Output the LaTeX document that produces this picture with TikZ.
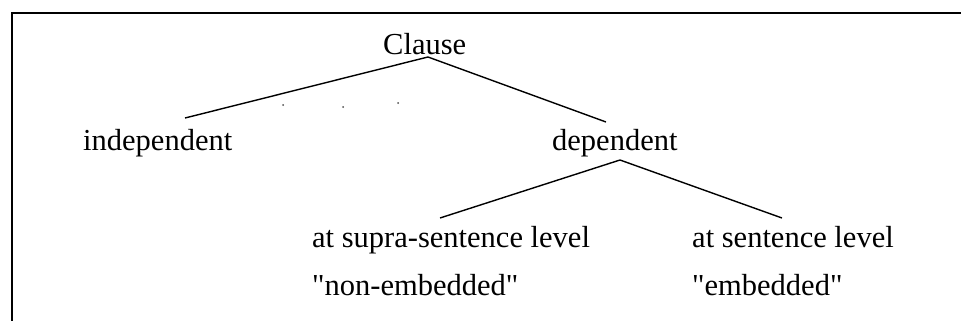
\documentclass[tikz,border=0pt]{standalone}
\usepackage{fontspec}
\setmainfont{Liberation Serif}
\newfontfamily\plainserif{Liberation Serif}
\usetikzlibrary{calc}
\begin{document}
\begin{tikzpicture}[x=1pt,y=-1pt,
  lbl/.style={anchor=base west,inner sep=0pt,font=\plainserif\fontsize{30.5}{36}\selectfont},
  branch/.style={line width=1.4pt},
  frameline/.style={line width=1.5pt},
  speck/.style={fill=black!70,draw=none}]
\useasboundingbox (0,0) rectangle (961,321);
\draw[frameline] (12,321) -- (12,13) -- (961,13);
\node[lbl] (clause) at (383,55) {Clause};
\node[lbl] (indep) at (83,150) {independent};
\node[lbl] (dep) at (552,150) {dependent};
\node[lbl] (supra) at (312,247) {at supra-sentence level};
\node[lbl] (nonemb) at (312,295) {"non-embedded"};
\node[lbl] (sent) at (692,247) {at sentence level};
\node[lbl] (emb) at (692,295) {"embedded"};
\coordinate (capex) at ($(clause.base west)+(45,2)$);
\coordinate (dapex) at ($(dep.base west)+(68,10)$);
\draw[branch] ($(indep.base west)+(102,-32)$) -- (capex) -- ($(dep.base west)+(54,-28)$);
\draw[branch] ($(supra.base west)+(128,-29)$) -- (dapex) -- ($(sent.base west)+(90,-29)$);
\fill[speck] (283,105) circle (1);
\fill[speck] (343,107) circle (1);
\fill[speck] (398,103) circle (1);
\end{tikzpicture}
\end{document}
